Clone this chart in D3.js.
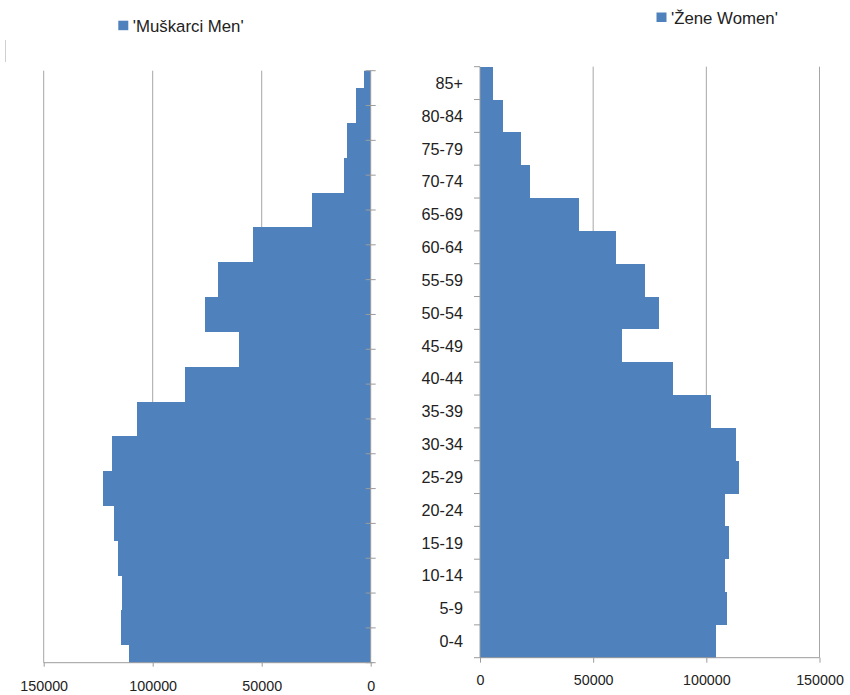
<!DOCTYPE html>
<html>
<head>
  <meta charset="utf-8">
  <script src="https://d3js.org/d3.v7.min.js"></script>
  <style>
    body { margin: 0; background: #fff; }
    text { font-family: "Liberation Sans", Arial, sans-serif; fill: #222; }
  </style>
</head>
<body>
<script type="text/javascript">
  "use strict";

  // age groups, bottom to top
  var ageGroups = ["0-4", "5-9", "10-14", "15-19", "20-24", "25-29", "30-34", "35-39",
                   "40-44", "45-49", "50-54", "55-59", "60-64", "65-69", "70-74",
                   "75-79", "80-84", "85+"];

  var men = [110700, 114700, 113900, 116000, 117700, 122700, 118500, 107300, 85000,
             60600, 75900, 70200, 54100, 27100, 12400, 10900, 6900, 2900];

  var women = [104400, 109000, 108400, 109900, 108400, 114600, 113000, 102100, 85400,
               62700, 79200, 72900, 60200, 43700, 22200, 18100, 10300, 5600];

  var xTicks = [0, 50000, 100000, 150000];
  var menLabel = "'Muškarci Men'";
  var womenLabel = "'Žene Women'";

  var barColor = "#4f81bd",
      gridColor = "#a6a6a6",
      axisColor = "#9c9c9c";

  var width = 850, height = 695;

  var svg = d3.select("body")
    .append("svg")
      .attr("width", width)
      .attr("height", height);

  var topDown = ageGroups.slice().reverse();
  var menData = ageGroups.map(function (d, i) { return { age: d, value: men[i] }; });
  var womenData = ageGroups.map(function (d, i) { return { age: d, value: women[i] }; });

  // stray line at the top left of the original
  svg.append("line")
      .attr("x1", 5.5).attr("x2", 5.5)
      .attr("y1", 40).attr("y2", 62)
      .style("stroke", "#cfcfcf");

  /*
    Left panel - men, reversed axis, bars centred on tick marks
  */
  var L = { left: 43.7, right: 370.7, top: 70.7, bottom: 662.7 };

  var xL = d3.scaleLinear().domain([0, 150000]).range([L.right, L.left]);
  var yL = d3.scalePoint().domain(topDown).range([L.top, L.bottom]).padding(0);
  var stepL = yL.step();

  var left = svg.append("g").attr("class", "men");

  svg.append("clipPath").attr("id", "clipL")
    .append("rect")
      .attr("x", L.left).attr("y", L.top)
      .attr("width", L.right - L.left).attr("height", L.bottom - L.top);

  left.selectAll(".grid")
      .data(xTicks.filter(function (d) { return d > 0; }))
    .enter().append("line")
      .attr("class", "grid")
      .attr("x1", function (d) { return xL(d); })
      .attr("x2", function (d) { return xL(d); })
      .attr("y1", L.top).attr("y2", L.bottom)
      .style("stroke", gridColor);

  left.append("g").attr("clip-path", "url(#clipL)")
    .selectAll("rect")
      .data(menData)
    .enter().append("rect")
      .attr("x", function (d) { return xL(d.value); })
      .attr("y", function (d) { return yL(d.age) - stepL / 2; })
      .attr("width", function (d) { return xL(0) - xL(d.value); })
      .attr("height", stepL)
      .style("shape-rendering", "crispEdges")
      .style("fill", barColor);

  // vertical axis at zero, tick marks crossing it
  left.append("line")
      .attr("x1", L.right).attr("x2", L.right)
      .attr("y1", L.top).attr("y2", L.bottom)
      .style("stroke", axisColor);
  left.selectAll(".ytick")
      .data(topDown)
    .enter().append("line")
      .attr("class", "ytick")
      .attr("x1", L.right - 5).attr("x2", L.right + 5)
      .attr("y1", function (d) { return yL(d); })
      .attr("y2", function (d) { return yL(d); })
      .style("stroke", axisColor);

  var axisL = left.append("g")
      .attr("transform", "translate(0," + L.bottom + ")")
      .call(d3.axisBottom(xL).tickValues(xTicks).tickSize(4).tickPadding(14)
              .tickFormat(d3.format("d")));
  axisL.select(".domain").attr("d", "M" + L.left + ",0H" + (L.right + 2)).style("stroke", axisColor);
  axisL.selectAll(".tick line").style("stroke", axisColor);
  axisL.selectAll(".tick text")
      .style("font-size", "14.3px")
      .style("font-family", "'Liberation Sans', Arial, sans-serif")
      .style("fill", "#222");

  /*
    Right panel - women
  */
  var R = { left: 480, right: 819.5, top: 66.7, bottom: 657.7 };

  var xR = d3.scaleLinear().domain([0, 150000]).range([R.left, R.right]);
  var yR = d3.scaleBand().domain(topDown).range([R.top, R.bottom]).padding(0);

  var right = svg.append("g").attr("class", "women");

  right.selectAll(".grid")
      .data(xTicks.filter(function (d) { return d > 0; }))
    .enter().append("line")
      .attr("class", "grid")
      .attr("x1", function (d) { return xR(d); })
      .attr("x2", function (d) { return xR(d); })
      .attr("y1", R.top).attr("y2", R.bottom)
      .style("stroke", gridColor);

  right.selectAll(".bar")
      .data(womenData)
    .enter().append("rect")
      .attr("class", "bar")
      .attr("x", xR(0))
      .attr("y", function (d) { return yR(d.age); })
      .attr("width", function (d) { return xR(d.value) - xR(0); })
      .attr("height", yR.bandwidth())
      .style("shape-rendering", "crispEdges")
      .style("fill", barColor);

  // category axis with ticks between bands
  right.append("line")
      .attr("x1", R.left).attr("x2", R.left)
      .attr("y1", R.top).attr("y2", R.bottom)
      .style("stroke", axisColor);
  right.selectAll(".ytick")
      .data(topDown.concat(["end"]))
    .enter().append("line")
      .attr("class", "ytick")
      .attr("x1", R.left - 6).attr("x2", R.left)
      .attr("y1", function (d, i) { return R.top + i * yR.step(); })
      .attr("y2", function (d, i) { return R.top + i * yR.step(); })
      .style("stroke", axisColor);
  right.selectAll(".ylabel")
      .data(topDown)
    .enter().append("text")
      .attr("class", "ylabel")
      .attr("x", 463)
      .attr("y", function (d) { return yR(d) + yR.bandwidth() / 2; })
      .attr("dy", "0.36em")
      .style("text-anchor", "end")
      .style("font-size", "16.2px")
      .text(function (d) { return d; });

  var axisR = right.append("g")
      .attr("transform", "translate(0," + R.bottom + ")")
      .call(d3.axisBottom(xR).tickValues(xTicks).tickSize(5).tickPadding(12)
              .tickFormat(d3.format("d")));
  axisR.select(".domain").attr("d", "M" + R.left + ",0H" + R.right).style("stroke", axisColor);
  axisR.selectAll(".tick line").style("stroke", axisColor);
  axisR.selectAll(".tick text")
      .style("font-size", "14.3px")
      .style("font-family", "'Liberation Sans', Arial, sans-serif")
      .style("fill", "#222");

  /*
    Legends
  */
  var legends = [
    { label: menLabel, x: 118.3, y: 20.7, size: 16.8 },
    { label: womenLabel, x: 656.5, y: 12.5, size: 16.8 }
  ];
  var lg = svg.selectAll(".legend")
      .data(legends)
    .enter().append("g")
      .attr("class", "legend")
      .attr("transform", function (d) { return "translate(" + d.x + "," + d.y + ")"; });
  lg.append("rect")
      .attr("width", 10).attr("height", 9.5)
      .style("fill", barColor);
  lg.append("text")
      .attr("x", 14.5)
      .attr("y", 11.3)
      .style("font-size", function (d) { return d.size + "px"; })
      .text(function (d) { return d.label; });
</script>
</body>
</html>
